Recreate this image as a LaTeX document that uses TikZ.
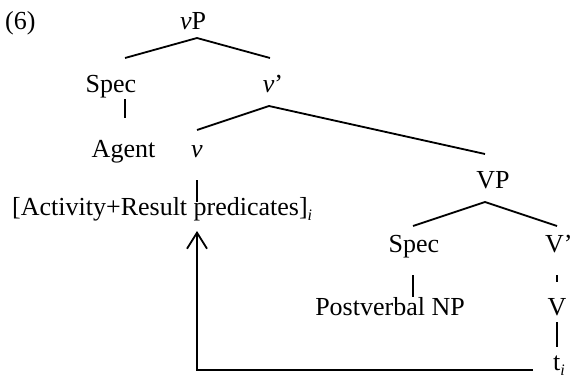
\documentclass[tikz,border=0pt]{standalone}
\usepackage{fontspec}
\setmainfont{Liberation Serif}
\usetikzlibrary{arrows.meta}
\newcommand\subi{\raisebox{-0.2em}{\fontsize{16}{16}\selectfont\itshape i}}
\begin{document}
\begin{tikzpicture}[x=1pt,y=-1pt,
  lbl/.style={inner sep=0pt,anchor=base,font=\fontsize{26}{30}\selectfont},
  branch/.style={line width=1.8pt},
  mv/.style={line width=1.8pt,-{Straight Barb[length=16pt,width=20pt,line width=1.8pt]}}]
\useasboundingbox (0,0) rectangle (572,383);
% texts
\node[lbl,anchor=base west] (six) at (5,29) {(6)};
\node[lbl] (vP) at (193,29) {\textit{v}P};
\node[lbl] (spec1) at (111,92) {Spec};
\node[lbl] (vbar) at (273,92) {\textit{v}’};
\node[lbl] (agent) at (123.5,157) {Agent};
\node[lbl] (v) at (197,157) {\textit{v}};
\node[lbl,anchor=base west] (pred) at (12,215) {[Activity+Result predicates]\subi};
\node[lbl] (VP) at (493,188) {VP};
\node[lbl] (spec2) at (414,252) {Spec};
\node[lbl,anchor=base west] (Vbar) at (545,252) {V’};
\node[lbl] (post) at (390,315) {Postverbal NP};
\node[lbl] (V) at (557,315) {V};
\node[lbl,anchor=base west] (ti) at (553,370) {t\subi};
% joints
\coordinate (vPb) at (197,38);
\coordinate (spec1t) at (125,58);
\coordinate (vbart) at (270,58);
\coordinate (spec1b) at (125,99);
\coordinate (agentt) at (125,118);
\coordinate (vbarb) at (269,106);
\coordinate (vt) at (197,130);
\coordinate (VPt) at (485,154);
\coordinate (vb) at (197,180);
\coordinate (predt) at (197,202);
\coordinate (VPb) at (485,202);
\coordinate (spec2t) at (413,226);
\coordinate (Vbart) at (557,226);
\coordinate (spec2b) at (413,275);
\coordinate (postt) at (413,297);
\coordinate (Vbarb) at (557,275);
\coordinate (Vt) at (557,282);
\coordinate (Vb) at (557,322);
\coordinate (tit) at (557,347);
\coordinate (tiw) at (533,370);
\coordinate (tip) at (197,231);
% branches
\draw[branch] (spec1t) -- (vPb) -- (vbart);
\draw[branch] (spec1b) -- (agentt);
\draw[branch] (vt) -- (vbarb) -- (VPt);
\draw[branch] (vb) -- (predt);
\draw[branch] (spec2t) -- (VPb) -- (Vbart);
\draw[branch] (spec2b) -- (postt);
\draw[branch] (Vbarb) -- (Vt);
\draw[branch] (Vb) -- (tit);
% movement
\draw[mv] (tiw) -| (tip);
\end{tikzpicture}
\end{document}
